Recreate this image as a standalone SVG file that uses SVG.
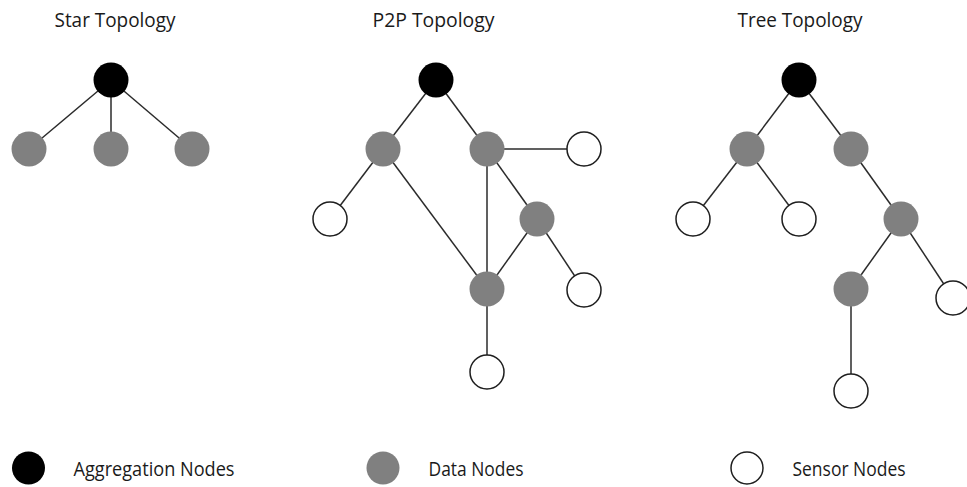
<svg xmlns="http://www.w3.org/2000/svg" width="967" height="487" viewBox="0 0 967 487">
  <style>
    .title, .legend-label { font-family: "Open Sans", "Noto Sans", "Liberation Sans", sans-serif; font-size: 20px; fill: #1a1a1a; }
    .edge { stroke: #2b2b2b; stroke-width: 1.5; fill: none; }
    .agg { fill: #000000; }
    .data { fill: #808080; }
    .sensor { fill: #ffffff; stroke: #1e1e1e; stroke-width: 1.5; }
  </style>
  <rect width="967" height="487" fill="#ffffff"/>

  <!-- Section titles -->
  <text class="title" x="54.5" y="27" textLength="121" lengthAdjust="spacingAndGlyphs">Star Topology</text>
  <text class="title" x="372.5" y="27" textLength="122" lengthAdjust="spacingAndGlyphs">P2P Topology</text>
  <text class="title" x="737.5" y="27" textLength="125" lengthAdjust="spacingAndGlyphs">Tree Topology</text>

  <!-- Connectors -->
  <g id="connectors">
    <!-- star -->
    <line class="edge" x1="111" y1="80" x2="29" y2="149"/>
    <line class="edge" x1="111" y1="80" x2="111" y2="149"/>
    <line class="edge" x1="111" y1="80" x2="192" y2="149"/>
    <!-- peer-to-peer -->
    <line class="edge" x1="436" y1="80" x2="383" y2="149"/>
    <line class="edge" x1="436" y1="80" x2="487" y2="149"/>
    <line class="edge" x1="487" y1="149" x2="584" y2="149"/>
    <line class="edge" x1="383" y1="149" x2="330" y2="219"/>
    <line class="edge" x1="383" y1="149" x2="487" y2="289"/>
    <line class="edge" x1="487" y1="149" x2="487" y2="289"/>
    <line class="edge" x1="487" y1="149" x2="537" y2="219"/>
    <line class="edge" x1="537" y1="219" x2="487" y2="289"/>
    <line class="edge" x1="537" y1="219" x2="584" y2="290"/>
    <line class="edge" x1="487" y1="289" x2="487" y2="372"/>
    <!-- tree -->
    <line class="edge" x1="799" y1="80" x2="747" y2="149"/>
    <line class="edge" x1="799" y1="80" x2="851" y2="149"/>
    <line class="edge" x1="747" y1="149" x2="693" y2="219"/>
    <line class="edge" x1="747" y1="149" x2="799" y2="219"/>
    <line class="edge" x1="851" y1="149" x2="901" y2="219"/>
    <line class="edge" x1="901" y1="219" x2="851" y2="289"/>
    <line class="edge" x1="901" y1="219" x2="953" y2="298"/>
    <line class="edge" x1="851" y1="289" x2="851" y2="391"/>
  </g>

  <!-- Star topology nodes -->
  <g id="star-agg"><circle class="agg" cx="111" cy="80" r="17.5"/></g>
  <g id="star-data-1"><circle class="data" cx="29" cy="149" r="17.5"/></g>
  <g id="star-data-2"><circle class="data" cx="111" cy="149" r="17.5"/></g>
  <g id="star-data-3"><circle class="data" cx="192" cy="149" r="17.5"/></g>

  <!-- P2P topology nodes -->
  <g id="p2p-agg"><circle class="agg" cx="436" cy="80" r="17.5"/></g>
  <g id="p2p-data-1"><circle class="data" cx="383" cy="149" r="17.5"/></g>
  <g id="p2p-data-2"><circle class="data" cx="487" cy="149" r="17.5"/></g>
  <g id="p2p-sensor-1"><circle class="sensor" cx="584" cy="149" r="17"/></g>
  <g id="p2p-sensor-2"><circle class="sensor" cx="330" cy="219" r="17"/></g>
  <g id="p2p-data-3"><circle class="data" cx="537" cy="219" r="17.5"/></g>
  <g id="p2p-data-4"><circle class="data" cx="487" cy="289" r="17.5"/></g>
  <g id="p2p-sensor-3"><circle class="sensor" cx="584" cy="290" r="17"/></g>
  <g id="p2p-sensor-4"><circle class="sensor" cx="487" cy="372" r="17"/></g>

  <!-- Tree topology nodes -->
  <g id="tree-agg"><circle class="agg" cx="799" cy="80" r="17.5"/></g>
  <g id="tree-data-1"><circle class="data" cx="747" cy="149" r="17.5"/></g>
  <g id="tree-data-2"><circle class="data" cx="851" cy="149" r="17.5"/></g>
  <g id="tree-sensor-1"><circle class="sensor" cx="693" cy="219" r="17"/></g>
  <g id="tree-sensor-2"><circle class="sensor" cx="799" cy="219" r="17"/></g>
  <g id="tree-data-3"><circle class="data" cx="901" cy="219" r="17.5"/></g>
  <g id="tree-data-4"><circle class="data" cx="851" cy="289" r="17.5"/></g>
  <g id="tree-sensor-3"><circle class="sensor" cx="953" cy="298" r="17"/></g>
  <g id="tree-sensor-4"><circle class="sensor" cx="851" cy="391" r="17"/></g>

  <!-- Legend -->
  <g id="legend-agg">
    <circle class="agg" cx="28.5" cy="468" r="16.5"/>
    <text class="legend-label" x="73.5" y="476" textLength="161" lengthAdjust="spacingAndGlyphs">Aggregation Nodes</text>
  </g>
  <g id="legend-data">
    <circle class="data" cx="383" cy="468" r="16.5"/>
    <text class="legend-label" x="428.5" y="476" textLength="95" lengthAdjust="spacingAndGlyphs">Data Nodes</text>
  </g>
  <g id="legend-sensor">
    <circle class="sensor" cx="747" cy="468" r="16"/>
    <text class="legend-label" x="792.5" y="476" textLength="113" lengthAdjust="spacingAndGlyphs">Sensor Nodes</text>
  </g>
</svg>
